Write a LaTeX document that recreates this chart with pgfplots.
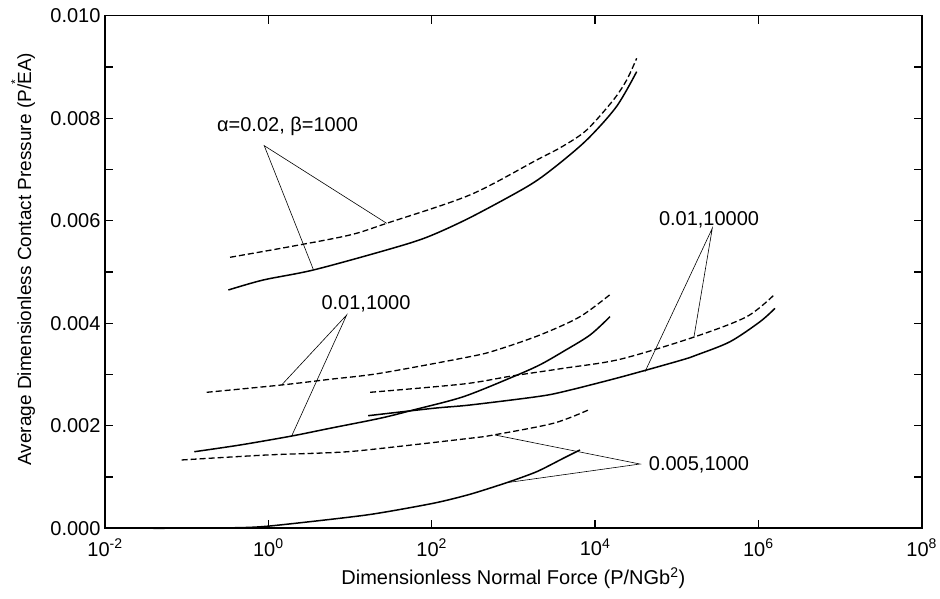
\documentclass[border=0pt]{standalone}
\usepackage{pgfplots}
\pgfplotsset{compat=1.18}
\usepackage{fontspec}
\setmainfont{Liberation Sans}
\newcommand{\fs}{\fontsize{20}{23}\selectfont}
\begin{document}
\begin{tikzpicture}[x=1pt,y=1pt]
\path[use as bounding box] (0,0) rectangle (940,599);
\begin{axis}[
  at={(105pt,70.7pt)}, anchor=south west,
  scale only axis, width=816.7pt, height=512.6pt,
  xmode=log, xmin=1e-2, xmax=1e8, ymin=0, ymax=0.010,
  xtick={1e-2,1,1e2,1e4,1e6,1e8},
  xticklabels={10\textsuperscript{-2},10\textsuperscript{0},10\textsuperscript{2},10\textsuperscript{4},10\textsuperscript{6},10\textsuperscript{8}},
  xminorticks=false,
  ytick={0,0.002,0.004,0.006,0.008,0.010},
  yticklabels={0.000,0.002,0.004,0.006,0.008,0.010},
  minor ytick={0.001,0.003,0.005,0.007,0.009},
  scaled y ticks=false,
  major tick length=8pt, minor tick length=8pt,
  every tick/.style={black, line width=1.1pt},
  axis line style={line width=1.6pt},
  tick label style={font=\fs},
  xticklabel style={yshift=-7pt},
  yticklabel style={xshift=-1pt},
  xlabel={Dimensionless Normal Force (P/NGb\textsuperscript{2})},
  ylabel={Average Dimensionless Contact Pressure (P/\makebox[0pt][l]{\raisebox{0.62em}{\fontsize{12}{12}\selectfont *}}EA)},
  xlabel style={font=\fs, at={(axis description cs:0.5,0)}, anchor=center, yshift=-50pt},
  ylabel style={font=\fontsize{19}{22}\selectfont, at={(axis description cs:-0.1004,0.525)}, anchor=center},
  clip=false,
]
% alpha=0.02, beta=1000
\addplot[black, line width=1.3pt, dash pattern=on 6pt off 3pt, smooth, tension=0.5] coordinates {
 (0.340,0.005287) (1.84,0.005494) (10.0,0.005722) (28.1,0.00595) (294,0.006503)
 (1932,0.007185) (4000,0.00745) (7907,0.00777) (16790,0.008356) (24430,0.008746) (32360,0.009169)};
\addplot[black, line width=1.5pt, smooth, tension=0.5] coordinates {
 (0.324,0.004649) (0.867,0.004844) (3.56,0.005039) (28.1,0.00543) (86.9,0.005677)
 (294,0.00606) (1456,0.00666) (3083,0.007023) (7907,0.007575) (18280,0.008225) (32360,0.008908)};
% 0.01,1000
\addplot[black, line width=1.3pt, dash pattern=on 6pt off 3pt, smooth, tension=0.5] coordinates {
 (0.176,0.002653) (1.455,0.002796) (5.69,0.002907) (23.3,0.003024) (294,0.003348)
 (625,0.003478) (2118,0.003771) (6546,0.004128) (16000,0.004585)};
\addplot[black, line width=1.5pt, smooth, tension=0.5] coordinates {
 (0.124,0.001494) (0.450,0.001625) (1.93,0.0018) (5.69,0.001951) (23.3,0.002146)
 (59.6,0.002308) (244,0.002567) (1000,0.002958) (2118,0.00319) (4093,0.00345)
 (8690,0.003771) (15240,0.004128)};
% 0.01,10000
\addplot[black, line width=1.3pt, dash pattern=on 6pt off 3pt, smooth, tension=0.5] coordinates {
 (17.6,0.002653) (244,0.002815) (955,0.002971) (4093,0.003121) (20230,0.003297)
 (160000,0.003726) (719500,0.004128) (1600000,0.004571)};
\addplot[black, line width=1.5pt, smooth, tension=0.5] coordinates {
 (16.7,0.002197) (104.7,0.002341) (294,0.002405) (1932,0.002567) (4093,0.002665)
 (20230,0.002946) (109900,0.003273) (175800,0.003381) (449800,0.00364)
 (1047000,0.00403) (1600000,0.004292)};
% 0.005,1000
\addplot[black, line width=1.3pt, dash pattern=on 6pt off 3pt, smooth, tension=0.5] coordinates {
 (0.0869,0.001333) (0.955,0.00143) (5.69,0.001475) (16.0,0.001528) (294,0.001756)
 (569,0.00182) (3083,0.002048) (8279,0.002308)};
\addplot[black, line width=1.5pt, smooth, tension=0.4] coordinates {
 (0.0391,0.0) (0.372,0.00001) (1.047,0.000045) (16.0,0.00026) (104.7,0.000488)
 (294,0.000663) (828,0.00089) (1932,0.001104) (4093,0.001366) (6546,0.001528)};
% annotations
\node[font=\fs] at (axis cs:1.72,0.007835) {α=0.02, β=1000};
\draw[black, line width=0.6pt] (axis cs:28.1,0.00595) -- (axis cs:0.891,0.007464) -- (axis cs:3.55,0.005053);
\node[font=\fs] at (axis cs:15.7,0.004386) {0.01,1000};
\draw[black, line width=0.6pt] (axis cs:1.455,0.002796) -- (axis cs:9.1,0.004161) -- (axis cs:1.93,0.0018);
\node[font=\fs] at (axis cs:249000,0.006015) {0.01,10000};
\draw[black, line width=0.6pt] (axis cs:162900,0.003738) -- (axis cs:272900,0.005853) -- (axis cs:40930,0.003055);
\node[font=\fs] at (axis cs:187500,0.001245) {0.005,1000};
\draw[black, line width=0.6pt] (axis cs:596,0.00182) -- (axis cs:35560,0.001254) -- (axis cs:830,0.00089);
\end{axis}
\end{tikzpicture}
\end{document}
